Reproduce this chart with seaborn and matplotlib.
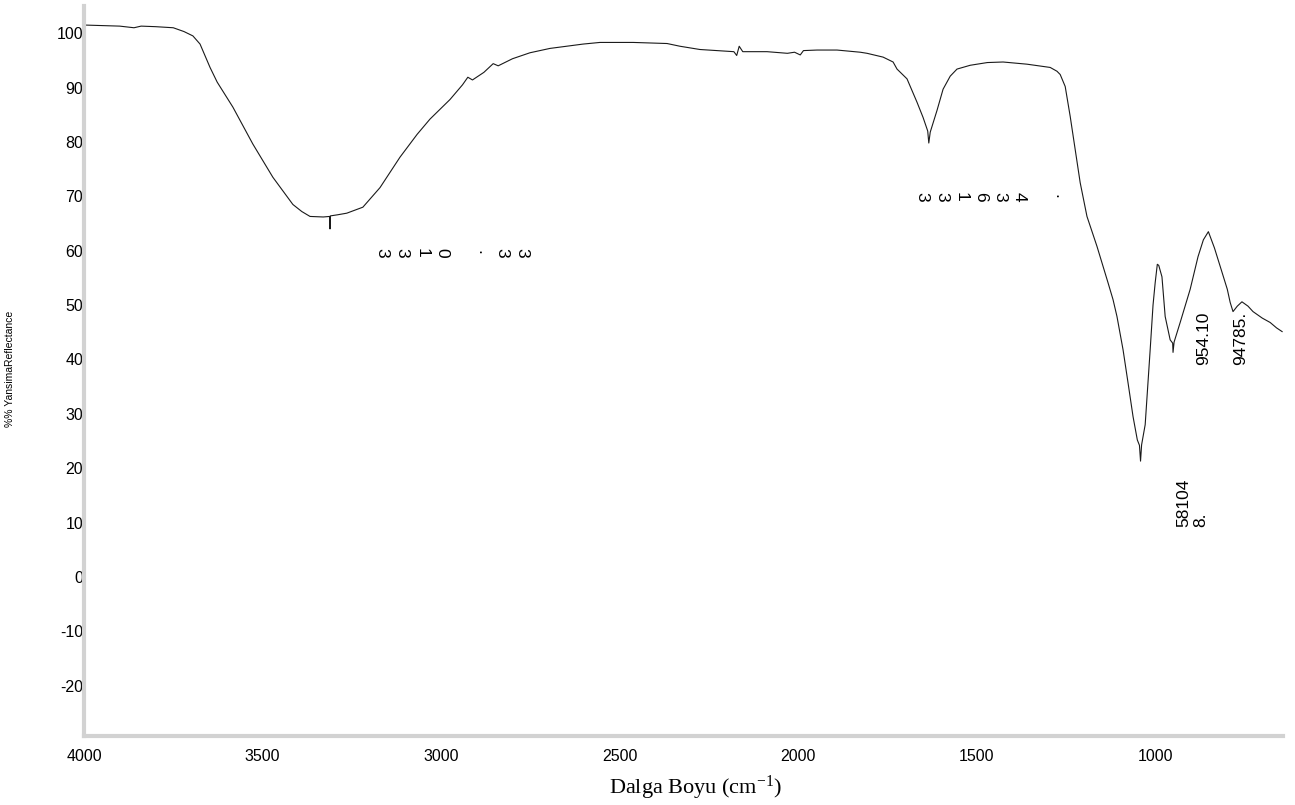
import numpy as np
import pandas as pd
import matplotlib
matplotlib.use("Agg")
import matplotlib.pyplot as plt
import seaborn as sns

# ---------------- data ----------------
wavenumber = [4000, 3950, 3900, 3860, 3840, 3800, 3750, 3720, 3695, 3675,
              3647, 3627, 3583, 3527, 3471, 3415, 3390, 3367, 3330, 3312,
              3311, 3310, 3290, 3264, 3219, 3171, 3115, 3067, 3031, 2975,
              2940, 2925, 2912, 2880, 2854, 2840, 2800, 2751, 2695, 2602,
              2555, 2462, 2367, 2331, 2275, 2180, 2172, 2165, 2155, 2087,
              2030, 2010, 1994, 1985, 1947, 1891, 1826, 1807, 1762, 1734,
              1723, 1695, 1667, 1650, 1637, 1634, 1630, 1611, 1594, 1574,
              1555, 1518, 1470, 1426, 1359, 1294, 1275, 1266, 1252, 1238,
              1224, 1210, 1191, 1163, 1132, 1118, 1107, 1090, 1076, 1062,
              1050, 1044, 1041, 1038, 1028, 1014, 1006, 1000, 994, 990,
              981, 972, 958, 951, 950, 947, 930, 902, 880, 865,
              851, 834, 815, 798, 790, 782, 770, 757, 740, 726,
              700, 678, 660, 644]
reflectance = [101.5, 101.4, 101.3, 101.0, 101.3, 101.2, 101.0, 100.3, 99.5, 98.0,
               93.7, 91.0, 86.4, 79.6, 73.5, 68.5, 67.2, 66.3, 66.2, 66.3,
               64.0, 66.4, 66.6, 66.9, 68.0, 71.6, 77.2, 81.4, 84.2, 87.8,
               90.5, 91.9, 91.4, 92.8, 94.4, 94.0, 95.3, 96.4, 97.2, 98.0,
               98.3, 98.3, 98.1, 97.6, 97.0, 96.6, 95.9, 97.6, 96.6, 96.6,
               96.3, 96.5, 96.0, 96.8, 96.9, 96.9, 96.5, 96.3, 95.6, 94.7,
               93.4, 91.6, 87.3, 84.5, 82.0, 79.8, 81.8, 85.8, 89.7, 92.1,
               93.4, 94.1, 94.6, 94.7, 94.3, 93.7, 93.0, 92.4, 90.2, 84.7,
               78.6, 72.5, 66.3, 60.8, 54.1, 51.0, 47.9, 41.8, 35.7, 29.5,
               25.2, 24.2, 21.3, 24.3, 28.0, 41.8, 50.0, 54.1, 57.5, 57.3,
               55.2, 47.9, 43.6, 43.0, 41.3, 43.2, 46.8, 52.9, 58.9, 62.0,
               63.5, 60.5, 56.5, 52.9, 50.5, 48.8, 49.8, 50.6, 49.8, 48.8,
               47.6, 46.8, 45.8, 45.1]

x_ticks = [4000, 3500, 3000, 2500, 2000, 1500, 1000]
y_ticks = [-20, -10, 0, 10, 20, 30, 40, 50, 60, 70, 80, 90, 100]

# peak labels written as single rotated characters
peak1_chars = list("3310 .33")
peak1_start, peak1_step, peak1_level = 3165, 56, 59.6
peak2_chars = list("331634 .")
peak2_start, peak2_step, peak2_level = 1653, 54.6, 69.9

# peak labels written as vertical strings
peak_texts = ["954.10", "94785.", "58104\n8."]
peak_text_x = [865, 762, 896]
peak_text_y = [39.0, 39.0, 9.2]

x_label = "Dalga Boyu (cm$^{-1}$)"
y_label = "%% YansimaReflectance"

# ---------------- plotting ----------------
sns.set_theme(style="white")
plt.rcParams["font.family"] = ["Liberation Sans", "DejaVu Sans"]
plt.rcParams["mathtext.default"] = "regular"

df = pd.DataFrame({"wn": wavenumber, "r": reflectance})

fig = plt.figure(figsize=(12.95, 8.05), dpi=100)
ax = fig.add_axes([84 / 1295, 1 - 736 / 805, (1283 - 84) / 1295, (736 - 6) / 805])

sns.lineplot(data=df, x="wn", y="r", estimator=None, sort=False,
             color="#1a1a1a", linewidth=0.8, ax=ax)

ax.set_xlim(4000, 642)
ax.set_ylim(-29.25, 105.0)
ax.set_xticks(x_ticks)
ax.set_yticks(y_ticks)
ax.set_xticklabels([str(t) for t in x_ticks])
ax.set_yticklabels([str(t) for t in y_ticks])

for s in ["top", "right"]:
    ax.spines[s].set_visible(False)
for s in ["left", "bottom"]:
    ax.spines[s].set_color("#d2d2d2")
    ax.spines[s].set_linewidth(3)

ax.tick_params(axis="y", direction="in", length=3, width=1.5, color="black",
               pad=0.5, labelsize=11.5, labelcolor="black")
ax.tick_params(axis="x", direction="inout", length=6, width=1.2, color="#333333",
               pad=6, labelsize=11.5, labelcolor="black")

ax.set_xlabel(x_label, fontfamily="Liberation Serif", fontsize=16, color="black")
ax.xaxis.set_label_coords((695 - 84) / (1283 - 84), -0.052)
ax.set_ylabel(y_label, fontsize=7.5, color="black")
ax.yaxis.set_label_coords((15 - 84) / (1283 - 84), 0.503)

for i, ch in enumerate(peak1_chars):
    ax.text(peak1_start - i * peak1_step, peak1_level, ch, rotation=-90,
            ha="center", va="center", fontsize=12.5, color="black")
for i, ch in enumerate(peak2_chars):
    ax.text(peak2_start - i * peak2_step, peak2_level, ch, rotation=-90,
            ha="center", va="center", fontsize=12.5, color="black")
for t, xv, yv in zip(peak_texts, peak_text_x, peak_text_y):
    ax.text(xv, yv, t, rotation=90, ha="center", va="bottom",
            multialignment="left", fontsize=12.5, color="black", linespacing=1.1)

ax.grid(False)
fig.savefig("out.png", dpi=100, facecolor="white")
